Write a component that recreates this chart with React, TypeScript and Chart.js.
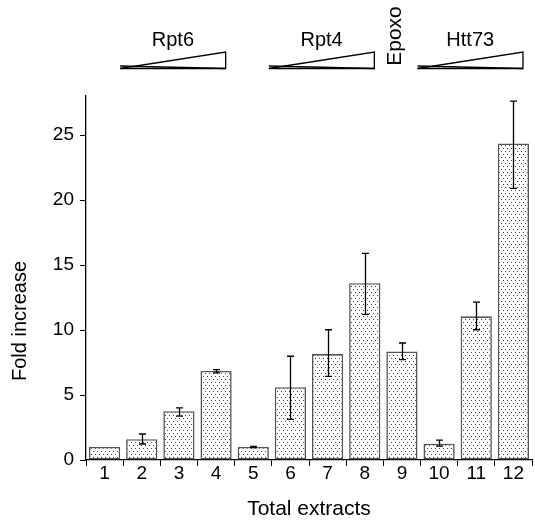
import React, { useEffect, useRef } from "react";
import { Chart, registerables } from "chart.js";

Chart.register(...registerables);

const categories = ["1", "2", "3", "4", "5", "6", "7", "8", "9", "10", "11", "12"];
const foldValues = [1.0, 1.6, 3.75, 6.85, 1.0, 5.6, 8.15, 13.6, 8.35, 1.25, 11.05, 24.35];
const errLow = [1.0, 1.23, 3.37, 6.7, 0.95, 3.12, 6.44, 11.2, 7.72, 1.07, 10.02, 20.9];
const errHigh = [1.0, 2.0, 4.01, 6.95, 1.05, 7.98, 10.02, 15.9, 9.0, 1.53, 12.14, 27.6];
const yTicks = [0, 5, 10, 15, 20, 25];
const yTitle = "Fold increase";
const rampLabels = ["Rpt6", "Rpt4", "Htt73"];
const rampFrom = [1, 5, 9];
const rampTo = [3, 7, 11];
const verticalLabel = "Epoxo";
const verticalLabelIndex = 8;

const FONT = "'Liberation Sans', Arial, Helvetica, sans-serif";

function makePattern(): CanvasPattern | string {
  const c = document.createElement("canvas");
  c.width = 4;
  c.height = 6;
  const g = c.getContext("2d");
  if (!g) return "#fff";
  g.fillStyle = "#ffffff";
  g.fillRect(0, 0, 4, 6);
  g.fillStyle = "#444444";
  g.fillRect(1, 1, 1, 1);
  g.fillRect(3, 4, 1, 1);
  const p = g.createPattern(c, "repeat");
  return p || "#fff";
}

const errorBarPlugin = {
  id: "errorBars",
  afterDatasetsDraw(chart: any) {
    const ctx = chart.ctx;
    const x = chart.scales.x;
    const y = chart.scales.y;
    ctx.save();
    ctx.strokeStyle = "#000";
    ctx.lineWidth = 1.3;
    for (let i = 0; i < categories.length; i++) {
      if (errHigh[i] - errLow[i] < 0.02) continue;
      const cx = Math.round(x.getPixelForValue(i)) + 0.5;
      const yt = y.getPixelForValue(errHigh[i]);
      const yb = y.getPixelForValue(errLow[i]);
      const hw = 3.5;
      ctx.beginPath();
      ctx.moveTo(cx, yt);
      ctx.lineTo(cx, yb);
      ctx.moveTo(cx - hw, yt);
      ctx.lineTo(cx + hw, yt);
      ctx.moveTo(cx - hw, yb);
      ctx.lineTo(cx + hw, yb);
      ctx.stroke();
    }
    ctx.restore();
  },
};

const rampPlugin = {
  id: "ramps",
  afterDraw(chart: any) {
    const ctx = chart.ctx;
    const x = chart.scales.x;
    const cw = x.getPixelForValue(1) - x.getPixelForValue(0);
    ctx.save();
    ctx.strokeStyle = "#000";
    ctx.lineWidth = 1.3;
    ctx.fillStyle = "#000";
    ctx.font = `20px ${FONT}`;
    ctx.textAlign = "center";
    ctx.textBaseline = "alphabetic";
    for (let k = 0; k < rampLabels.length; k++) {
      const left = x.getPixelForValue(rampFrom[k]) - cw / 2 - 3;
      const right = x.getPixelForValue(rampTo[k]) + cw / 2 - 9;
      const top = 52;
      const bottom = 68.5;
      ctx.beginPath();
      ctx.moveTo(left, bottom);
      ctx.lineTo(right, top);
      ctx.lineTo(right, bottom);
      ctx.lineTo(left, bottom - 2.5);
      ctx.stroke();
      ctx.beginPath();
      ctx.moveTo(left, bottom);
      ctx.lineTo(right, bottom);
      ctx.stroke();
      ctx.fillText(rampLabels[k], (left + right) / 2, 46);
    }
    ctx.save();
    const ex = x.getPixelForValue(verticalLabelIndex) - 7;
    ctx.translate(ex, 36);
    ctx.rotate(-Math.PI / 2);
    ctx.textBaseline = "middle";
    ctx.font = `21px ${FONT}`;
    ctx.fillText(verticalLabel, 0, 0);
    ctx.restore();
    // y-axis title
    ctx.translate(20, 321);
    ctx.rotate(-Math.PI / 2);
    ctx.textBaseline = "middle";
    ctx.font = `20px ${FONT}`;
    ctx.fillText(yTitle, 0, 0);
    ctx.restore();
  },
};

export default function App() {
  const ref = useRef<HTMLCanvasElement | null>(null);
  useEffect(() => {
    if (!ref.current) return;
    const pattern = makePattern();
    const chart = new Chart(ref.current, {
      type: "bar",
      data: {
        labels: categories,
        datasets: [
          {
            data: foldValues,
            backgroundColor: pattern as any,
            borderColor: "#555555",
            borderWidth: 1.6,
            borderSkipped: false,
            barPercentage: 0.84,
            categoryPercentage: 1,
          },
        ],
      },
      options: {
        animation: false,
        responsive: false,
        maintainAspectRatio: false,
        layout: { padding: { top: 96, right: 3, left: 0, bottom: 0 } },
        plugins: { legend: { display: false }, tooltip: { enabled: false } },
        scales: {
          x: {
            grid: {
              display: true,
              drawOnChartArea: false,
              offset: true,
              tickLength: 6,
              color: "#000",
            },
            border: { color: "#000", width: 1.3 },
            ticks: { color: "#000", font: { size: 19, family: FONT }, padding: -4, maxRotation: 0 },
            title: {
              display: true,
              text: "Total extracts",
              color: "#000",
              font: { size: 21, family: FONT },
              padding: { top: 0, bottom: 4 },
            },
            afterFit(scale: any) {
              scale.height = 66;
            },
          },
          y: {
            min: 0,
            max: 28,
            grid: { display: true, drawOnChartArea: false, tickLength: 6, color: "#000" },
            border: { color: "#000", width: 1.3 },
            afterBuildTicks(scale: any) {
              scale.ticks = yTicks.map((v) => ({ value: v }));
            },
            ticks: { color: "#000", font: { size: 19, family: FONT }, padding: 6 },
            title: { display: false },
            afterFit(scale: any) {
              scale.width = 86;
            },
          },
        },
      },
      plugins: [errorBarPlugin, rampPlugin],
    });
    return () => chart.destroy();
  }, []);
  return (
    <div style={{ position: "absolute", left: 0, top: 0, width: 535, height: 526, background: "#fff" }}>
      <canvas ref={ref} width={535} height={526} style={{ display: "block" }} />
    </div>
  );
}
